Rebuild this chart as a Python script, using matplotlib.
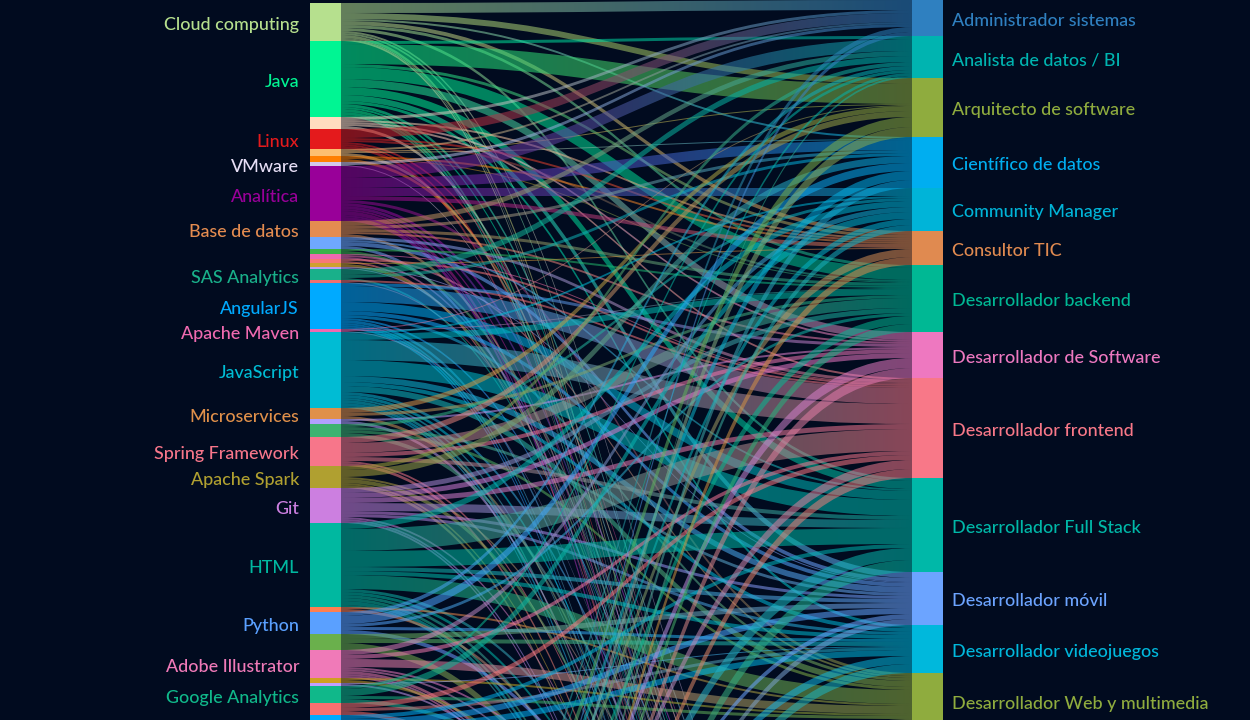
import matplotlib
matplotlib.use("Agg")
import matplotlib.pyplot as plt
from matplotlib.path import Path
from matplotlib.patches import PathPatch, Rectangle
from matplotlib.colors import to_rgba
import numpy as np

BG = "#010b1f"

# ---------------- data ----------------
source_ids = ["cloud", "java", "s_peach", "linux", "s_ltor", "s_or", "vmware", "analitica",
              "bd", "s_ltblue", "s_green1", "s_pink1", "s_salmon1", "s_olive1", "s_lav1", "sas",
              "s_salmon2", "angular", "maven", "js", "micro", "s_lav2", "s_green2", "spring",
              "spark", "git", "html", "s_or2", "python", "s_green3", "adobe", "s_olive2",
              "s_lav3", "ga", "s_salmon3", "s_cyan", "hl0", "hl1", "hl2", "hl3"]
source_labels = ["Cloud computing", "Java", "", "Linux", "", "", "VMware", "Analítica",
                 "Base de datos", "", "", "", "", "", "", "SAS Analytics",
                 "", "AngularJS", "Apache Maven", "JavaScript", "Microservices", "", "", "Spring Framework",
                 "Apache Spark", "Git", "HTML", "", "Python", "", "Adobe Illustrator", "",
                 "", "Google Analytics", "", "", "", "", "", ""]
source_colors = ["#b6e08e", "#00f593", "#ffdcc0", "#e41a1c", "#fdbf6f", "#ff7f00", "#d4c8ea", "#990099",
                 "#e48c50", "#6fa8ff", "#3cb44b", "#f06ab0", "#f87878", "#d0a030", "#c0a0f0", "#19b08a",
                 "#f07070", "#00aaff", "#f06ab0", "#00bcd4", "#e0904a", "#b0a0ff", "#3cb371", "#f7768a",
                 "#b0a030", "#cc7fe0", "#00b8a0", "#ff7f50", "#5aa0ff", "#6ab04c", "#f07ab8", "#d0a020",
                 "#c0a0ff", "#10b88a", "#f87070", "#00aaff", "#2f80c0", "#1fb58a", "#6fa8ff", "#b0a030"]

target_ids = ["AS", "AD", "AQ", "CD", "CM", "CT", "BE", "SW", "FE", "FS", "MO", "VJ", "WM",
              "h0", "h1", "h2", "h3", "h4", "h5", "h6"]
target_labels = ["Administrador sistemas", "Analista de datos / BI", "Arquitecto de software",
                 "Científico de datos", "Community Manager", "Consultor TIC", "Desarrollador backend",
                 "Desarrollador de Software", "Desarrollador frontend", "Desarrollador Full Stack",
                 "Desarrollador móvil", "Desarrollador videojuegos", "Desarrollador Web y multimedia",
                 "", "", "", "", "", "", ""]
target_colors = ["#2f80c0", "#00b4b0", "#8fac3e", "#00aef0", "#00b4d8", "#e08a50", "#00b894",
                 "#ee78c0", "#f87888", "#00b8a8", "#6ca4ff", "#00b8dc", "#8fac3e",
                 "#1fb58a", "#c080ff", "#00bcd4", "#f87878", "#e0904a", "#5aa0ff", "#cc7fe0"]

link_source = (
    ["cloud"] * 9 + ["java"] * 13 + ["s_peach"] * 5 + ["linux"] * 6 + ["s_ltor"] * 4 +
    ["s_or"] * 3 + ["vmware"] * 2 + ["analitica"] * 10 + ["bd"] * 5 + ["s_ltblue"] * 4 +
    ["s_green1"] * 2 + ["s_pink1"] * 3 + ["s_salmon1"] * 2 + ["s_olive1"] * 2 + ["s_lav1"] * 2 +
    ["sas"] * 3 + ["s_salmon2"] * 2 + ["angular"] * 10 + ["maven"] * 3 + ["js"] * 13 +
    ["micro"] * 3 + ["s_lav2"] * 2 + ["s_green2"] * 4 + ["spring"] * 6 + ["spark"] * 6 +
    ["git"] * 9 + ["html"] * 12 + ["s_or2"] * 2 + ["python"] * 5 + ["s_green3"] * 3 +
    ["adobe"] * 8 + ["s_olive2"] * 2 + ["s_lav3"] * 2 + ["ga"] * 4 + ["s_salmon3"] * 3 +
    ["s_cyan"] * 5 + ["hl0"] * 1 + ["hl1"] * 8 + ["hl2"] * 9 + ["hl3"] * 12 +
    ["cloud"] * 2 + ["analitica"] * 1
)
link_target = [
    "AS", "AQ", "CT", "BE", "FS", "CD", "h1", "h2", "h4",                          # cloud
    "AQ", "BE", "SW", "FS", "MO", "VJ", "AD", "CT", "h1", "h2", "h4", "h5", "h6",  # java
    "AS", "SW", "CT", "h2", "FE",                                                  # s_peach
    "AS", "CT", "BE", "h1", "h3", "h5",                                            # linux
    "AS", "AQ", "CD", "h2",                                                        # s_ltor
    "CT", "BE", "h1",                                                              # s_or
    "AS", "h3",                                                                    # vmware
    "AD", "CD", "CM", "CT", "WM", "h1", "h2", "h3", "h4", "h6",                    # analitica
    "AD", "CD", "BE", "h2", "SW",                                                  # bd
    "MO", "FS", "h3", "FE",                                                        # s_ltblue
    "BE", "h1",                                                                    # s_green1
    "WM", "FE", "h2",                                                              # s_pink1
    "FE", "h3",                                                                    # s_salmon1
    "CT", "h2",                                                                    # s_olive1
    "MO", "h1",                                                                    # s_lav1
    "AD", "CD", "h2",                                                              # sas
    "FE", "h1",                                                                    # s_salmon2
    "FE", "FS", "SW", "MO", "WM", "h1", "h3", "h4", "h5", "h6",                    # angular
    "BE", "AQ", "h2",                                                              # maven
    "FE", "FS", "BE", "MO", "WM", "VJ", "CM", "h1", "h2", "h3", "h4", "h5", "h6",  # js
    "AQ", "BE", "h2",                                                              # micro
    "SW", "h3",                                                                    # s_lav2
    "CM", "WM", "h1", "MO",                                                        # s_green2
    "BE", "AQ", "SW", "FS", "h3", "h4",                                            # spring
    "CD", "AD", "h2", "h1", "h6", "h4",                                            # spark
    "FS", "BE", "SW", "FE", "MO", "VJ", "h3", "h5", "h6",                          # git
    "FE", "WM", "FS", "CM", "MO", "VJ", "h1", "h2", "h3", "h4", "h5", "h6",        # html
    "WM", "h2",                                                                    # s_or2
    "CD", "AD", "BE", "h1", "VJ",                                                  # python
    "MO", "VJ", "h3",                                                              # s_green3
    "WM", "CM", "FE", "h1", "h2", "h4", "h5", "h6",                                # adobe
    "WM", "h2",                                                                    # s_olive2
    "VJ", "h3",                                                                    # s_lav3
    "CM", "AD", "WM", "h1",                                                        # ga
    "FE", "VJ", "h3",                                                              # s_salmon3
    "MO", "VJ", "FS", "h2", "h3",                                                  # s_cyan
    "h0",                                                                          # hl0
    "AS", "AD", "AQ", "CD", "CM", "CT", "BE", "h1",                                # hl1
    "SW", "FE", "FS", "MO", "VJ", "WM", "AS", "AQ", "h2",                          # hl2
    "CT", "BE", "SW", "FE", "FS", "MO", "VJ", "WM", "AD", "CD", "CM", "h3",        # hl3
    "h5", "h6",                                                                    # cloud (extra)
    "h5",                                                                          # analitica (extra)
]
link_value = [
    10, 6, 4, 3, 3, 2, 2, 2, 3,
    20, 12, 8, 8, 6, 3, 3, 3, 3, 2, 3, 3, 2,
    3, 2, 2, 3, 2,
    9, 2, 2, 2, 2, 3,
    2, 1, 1, 3,
    2, 1, 3,
    3, 1,
    12, 10, 8, 4, 3, 3, 3, 2, 4, 4,
    5, 3, 3, 3, 2,
    4, 2, 3, 3,
    2, 3,
    2, 1, 2,
    2, 2,
    1, 3,
    1, 1,
    6, 3, 2,
    2, 1,
    16, 9, 3, 4, 3, 2, 3, 2, 2, 2,
    1, 1, 1,
    20, 16, 6, 6, 6, 4, 2, 3, 3, 2, 3, 3, 2,
    5, 3, 3,
    2, 3,
    3, 3, 4, 3,
    10, 6, 4, 4, 2, 3,
    7, 4, 4, 2, 3, 2,
    8, 5, 5, 5, 3, 3, 2, 2, 2,
    22, 14, 16, 6, 4, 4, 3, 3, 3, 3, 4, 2,
    2, 3,
    8, 4, 3, 4, 3,
    5, 4, 7,
    8, 5, 4, 2, 2, 3, 2, 2,
    2, 3,
    1, 2,
    7, 3, 3, 4,
    5, 3, 4,
    6, 6, 4, 5, 4,
    260,
    5, 3, 10, 9, 6, 8, 8, 30,
    10, 9, 12, 5, 8, 5, 4, 10, 30,
    8, 8, 10, 9, 12, 6, 9, 5, 2, 8, 6, 30,
    1, 2,
    2,
]

# ---------------- layout ----------------
W, H = 1250, 720
LX0, LX1 = 310, 341
RX0, RX1 = 912, 943
LEFT_TOP, RIGHT_TOP = 3.0, 0.0
LINK_ALPHA = 0.55

src_index = {s: i for i, s in enumerate(source_ids)}
tgt_index = {t: i for i, t in enumerate(target_ids)}

src_val = np.zeros(len(source_ids))
tgt_val = np.zeros(len(target_ids))
for s, t, v in zip(link_source, link_target, link_value):
    src_val[src_index[s]] += v
    tgt_val[tgt_index[t]] += v

src_y0 = LEFT_TOP + np.concatenate([[0], np.cumsum(src_val)[:-1]])
tgt_y0 = RIGHT_TOP + np.concatenate([[0], np.cumsum(tgt_val)[:-1]])
src_c = src_y0 + src_val / 2
tgt_c = tgt_y0 + tgt_val / 2

links = list(zip(link_source, link_target, link_value))
n = len(links)
ys = np.zeros(n)
yt = np.zeros(n)
for si in range(len(source_ids)):
    idx = [k for k in range(n) if src_index[links[k][0]] == si]
    idx.sort(key=lambda k: tgt_c[tgt_index[links[k][1]]])
    off = src_y0[si]
    for k in idx:
        ys[k] = off
        off += links[k][2]
for ti in range(len(target_ids)):
    idx = [k for k in range(n) if tgt_index[links[k][1]] == ti]
    idx.sort(key=lambda k: src_c[src_index[links[k][0]]])
    off = tgt_y0[ti]
    for k in idx:
        yt[k] = off
        off += links[k][2]

# ---------------- drawing ----------------
fig = plt.figure(figsize=(W / 100, H / 100), dpi=100, facecolor=BG)
ax = fig.add_axes([0, 0, 1, 1])
ax.set_facecolor(BG)
ax.set_autoscale_on(False)
ax.set_xlim(0, W)
ax.set_ylim(H, 0)
ax.axis("off")

xm = (LX1 + RX0) / 2
tgrid = np.linspace(0, 1, 96)[None, :, None]
for k, (s, t, v) in enumerate(links):
    a0, a1 = ys[k], ys[k] + v
    b0, b1 = yt[k], yt[k] + v
    if min(a0, b0) > H + 5:
        continue
    verts = [(LX1, a0), (xm, a0), (xm, b0), (RX0, b0),
             (RX0, b1), (xm, b1), (xm, a1), (LX1, a1), (LX1, a0)]
    codes = [Path.MOVETO, Path.CURVE4, Path.CURVE4, Path.CURVE4,
             Path.LINETO, Path.CURVE4, Path.CURVE4, Path.CURVE4, Path.CLOSEPOLY]
    path = Path(verts, codes)
    patch = PathPatch(path, facecolor="none", edgecolor="none", transform=ax.transData)
    ax.add_patch(patch)
    c0 = np.array(to_rgba(source_colors[src_index[s]]))
    c1 = np.array(to_rgba(target_colors[tgt_index[t]]))
    img = c0[None, None, :] * (1 - tgrid) + c1[None, None, :] * tgrid
    img[..., 3] = LINK_ALPHA
    ymin, ymax = min(a0, b0), max(a1, b1)
    im = ax.imshow(img, extent=(LX1, RX0, ymax, ymin), aspect="auto",
                   interpolation="bilinear", zorder=1)
    im.set_clip_path(patch)

# nodes
for i in range(len(source_ids)):
    ax.add_patch(Rectangle((LX0, src_y0[i]), LX1 - LX0, src_val[i],
                           facecolor=source_colors[i], edgecolor="none", zorder=3))
for i in range(len(target_ids)):
    ax.add_patch(Rectangle((RX0, tgt_y0[i]), RX1 - RX0, tgt_val[i],
                           facecolor=target_colors[i], edgecolor="none", zorder=3))

FONT = ["Lato", "DejaVu Sans"]
FS = 12.9
for i, lab in enumerate(source_labels):
    if lab and src_c[i] < H:
        col = "#e6def5" if source_ids[i] == "vmware" else source_colors[i]
        ax.text(LX0 - 11, src_c[i] + 3, lab, ha="right", va="center",
                color=col, fontsize=FS, family=FONT, fontweight="medium", zorder=4)
for i, lab in enumerate(target_labels):
    if lab and tgt_c[i] < H:
        ax.text(RX1 + 9, tgt_c[i] + 3, lab, ha="left", va="center",
                color=target_colors[i], fontsize=FS, family=FONT, fontweight="medium", zorder=4)

ax.set_xlim(0, W)
ax.set_ylim(H, 0)
fig.savefig("out.png", dpi=100, facecolor=BG)
